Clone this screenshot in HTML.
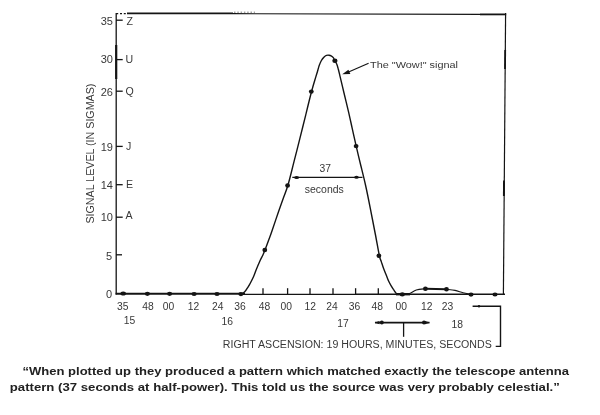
<!DOCTYPE html>
<html><head><meta charset="utf-8">
<style>
html,body{margin:0;padding:0;background:#fff;}
body{width:600px;height:415px;overflow:hidden;position:relative;}
svg{position:absolute;left:0;top:0;}
svg text{font-family:"Liberation Sans",Arial,sans-serif;fill:#383838;}
.cap{fill:#222;}
</style></head>
<body>
<svg width="600" height="415" viewBox="0 0 600 415">
<g stroke="#141414" fill="none" stroke-linecap="butt">
  <!-- frame -->
  <line x1="116.2" y1="13" x2="116.2" y2="294.5" stroke-width="1.3"/>
  <line x1="116.2" y1="45" x2="116.2" y2="79" stroke-width="2.2"/>
  <line x1="127" y1="13.4" x2="233" y2="13.4" stroke-width="1.7"/>
  <line x1="233" y1="13.7" x2="480" y2="14.3" stroke-width="1.2"/>
  <line x1="234" y1="12.2" x2="255" y2="12.2" stroke-width="1" stroke-dasharray="1.5,1.8" stroke="#777"/>
  <line x1="480" y1="14.4" x2="506.2" y2="14.4" stroke-width="1.8"/>
  <line x1="116.2" y1="13.6" x2="127" y2="13.6" stroke-width="1.2" stroke-dasharray="2,1.8"/>
  <line x1="505.6" y1="13.1" x2="503.4" y2="294.5" stroke-width="1.2"/>
  <line x1="505.2" y1="50" x2="505" y2="69" stroke-width="1.8"/>
  <line x1="504" y1="180.5" x2="503.9" y2="196" stroke-width="1.9"/>
  <!-- baseline -->
  <line x1="115.6" y1="293.8" x2="245" y2="293.8" stroke-width="2"/>
  <line x1="243" y1="294.3" x2="356" y2="294.3" stroke-width="1.2"/>
  <line x1="356" y1="294.2" x2="505" y2="294.2" stroke-width="1.6"/>
  <line x1="396" y1="294.2" x2="410" y2="294.2" stroke-width="2.4"/>
  <!-- y ticks -->
  <g stroke-width="1.3">
    <line x1="116" y1="20.2" x2="122.7" y2="20.2"/>
    <line x1="116" y1="59.6" x2="122.7" y2="59.6"/>
    <line x1="116" y1="91.2" x2="122.7" y2="91.2"/>
    <line x1="116" y1="146.4" x2="122.7" y2="146.4"/>
    <line x1="116" y1="184.7" x2="122.7" y2="184.7"/>
    <line x1="116" y1="217.2" x2="122.7" y2="217.2"/>
    <line x1="116" y1="254.8" x2="122" y2="254.8"/>
  </g>
  <!-- x ticks -->
  <g stroke-width="1.3">
    <line x1="263" y1="288.2" x2="263" y2="294"/>
    <line x1="287.6" y1="288.2" x2="287.6" y2="294"/>
    <line x1="310" y1="288.2" x2="310" y2="294"/>
    <line x1="333" y1="288.2" x2="333" y2="294"/>
    <line x1="355.6" y1="288.2" x2="355.6" y2="294"/>
    <line x1="378.3" y1="288.2" x2="378.3" y2="294"/>
  </g>
  <!-- main curve -->
  <path stroke-width="1.4" d="M240.0,293.9 C240.3,293.9 241.3,294.1 242.1,293.8 C242.9,293.5 243.8,292.7 244.7,291.8 C245.6,290.9 246.4,289.7 247.3,288.2 C248.2,286.7 249.4,284.9 250.4,283.0 C251.4,281.1 252.4,279.2 253.5,276.8 C254.6,274.4 255.6,271.1 256.7,268.5 C257.8,265.9 258.8,263.4 259.8,261.2 C260.8,258.9 262.0,256.9 262.9,255.0 C263.8,253.1 264.0,252.5 265.0,250.0 C266.0,247.5 267.5,243.4 268.7,240.1 C269.9,236.8 270.7,234.6 272.3,229.9 C273.9,225.2 276.7,217.1 278.5,211.8 C280.3,206.6 281.6,202.9 283.2,198.4 C284.8,193.9 286.2,191.1 288.0,185.0 C289.8,178.9 292.0,169.5 294.0,161.7 C296.0,153.9 297.9,146.2 299.9,138.4 C301.8,130.6 303.8,122.9 305.7,115.1 C307.6,107.3 309.9,97.8 311.5,91.8 C313.1,85.8 314.2,82.2 315.2,78.9 C316.2,75.6 316.7,73.9 317.4,71.7 C318.1,69.5 318.5,67.4 319.2,65.5 C319.9,63.6 320.6,61.9 321.4,60.5 C322.2,59.1 323.1,58.1 323.9,57.2 C324.7,56.4 325.5,55.7 326.4,55.4 C327.2,55.1 328.2,55.1 329.0,55.2 C329.8,55.3 330.4,55.4 331.1,55.8 C331.8,56.2 332.7,56.8 333.3,57.6 C333.9,58.4 334.2,59.6 334.8,60.8 C335.4,61.9 336.3,63.0 336.9,64.5 C337.5,66.0 337.9,67.7 338.4,69.5 C338.9,71.3 338.9,71.4 339.8,75.3 C340.7,79.2 342.6,87.1 344.0,93.0 C345.4,98.9 346.9,104.9 348.3,110.8 C349.7,116.7 350.9,122.5 352.2,128.4 C353.5,134.3 354.8,139.9 356.2,146.1 C357.6,152.3 359.2,159.0 360.8,165.5 C362.4,172.0 363.9,177.8 365.5,185.0 C367.1,192.2 368.8,200.7 370.4,208.9 C372.0,217.1 373.8,226.2 375.3,234.0 C376.8,241.8 378.4,251.2 379.4,255.8 C380.4,260.4 380.6,259.5 381.3,261.6 C382.0,263.7 382.8,266.4 383.6,268.5 C384.4,270.6 385.1,272.4 385.9,274.3 C386.7,276.2 387.4,278.4 388.2,280.1 C389.0,281.8 389.6,283.1 390.5,284.7 C391.4,286.2 392.4,287.9 393.4,289.4 C394.4,290.8 395.4,292.6 396.3,293.4 C397.2,294.2 398.1,294.0 399.0,294.2 C399.9,294.4 401.5,294.3 402.0,294.3"/>
  <!-- bump -->
  <path stroke-width="1.1" d="M406.0,294.2 C406.7,294.1 408.6,294.0 410.3,293.3 C412.0,292.6 413.8,290.8 416.3,290.0 C418.8,289.2 423.9,288.9 425.4,288.7"/>
  <path stroke-width="1.1" d="M446.3,289.3 C447.8,289.5 452.2,289.8 455.0,290.4 C457.8,291.0 460.3,292.0 463.0,292.7 C465.7,293.4 469.7,294.2 471.0,294.5"/>
  <line x1="425.4" y1="288.8" x2="446.3" y2="289.3" stroke-width="2"/>
  <!-- wow arrow -->
  <line x1="368.6" y1="63.3" x2="348" y2="72.2" stroke-width="1.2"/>
  <!-- 37 seconds arrow -->
  <line x1="292.3" y1="177.4" x2="362.5" y2="177.4" stroke-width="1.2"/>
  <!-- bottom arrows -->
  <line x1="375" y1="322.6" x2="429.5" y2="322.6" stroke-width="1.8"/>
  <line x1="403.6" y1="322.6" x2="403.6" y2="336.8" stroke-width="1.3"/>
  <polyline points="472.6,306.2 500.5,306.2 500.5,346.4 495.7,346.4" stroke-width="1.4"/>
</g>
<g fill="#141414">
  <!-- curve dots -->
  <ellipse cx="264.8" cy="250" rx="2.4" ry="2.2"/>
  <ellipse cx="287.6" cy="185.5" rx="2.4" ry="2.2"/>
  <ellipse cx="311.3" cy="91.6" rx="2.4" ry="2.2"/>
  <ellipse cx="334.9" cy="60.8" rx="2.6" ry="2.2"/>
  <ellipse cx="356.1" cy="146.1" rx="2.4" ry="2.2"/>
  <ellipse cx="378.9" cy="255.8" rx="2.4" ry="2.2"/>
  <!-- baseline dots -->
  <ellipse cx="123.2" cy="293.6" rx="2.8" ry="2"/>
  <ellipse cx="147.4" cy="293.8" rx="2.6" ry="2.1"/>
  <ellipse cx="169.6" cy="293.8" rx="2.6" ry="2.1"/>
  <ellipse cx="194.1" cy="294" rx="2.6" ry="2.1"/>
  <ellipse cx="217" cy="294" rx="2.6" ry="2.1"/>
  <ellipse cx="240.9" cy="294.1" rx="2.6" ry="2.1"/>
  <ellipse cx="402.3" cy="294.4" rx="2.6" ry="2.1"/>
  <ellipse cx="471" cy="294.6" rx="2.6" ry="2.1"/>
  <ellipse cx="495" cy="294.5" rx="2.6" ry="2.1"/>
  <ellipse cx="425.4" cy="288.8" rx="2.4" ry="2.2"/>
  <ellipse cx="446.5" cy="289.3" rx="2.4" ry="2.2"/>
  <!-- arrowheads -->
  <polygon points="342.2,74.3 348.4,69.8 350.4,74"/>
  <ellipse cx="296.6" cy="177.4" rx="2.5" ry="1.5"/>
  <ellipse cx="356.5" cy="177.3" rx="2.3" ry="1.5"/>
  <polygon points="374.6,322.6 379.5,320.9 379.5,324.3"/>
  <ellipse cx="381.8" cy="322.6" rx="2" ry="2"/>
  <polygon points="429.8,322.6 425,320.9 425,324.3"/>
  <ellipse cx="424" cy="322.6" rx="2" ry="2"/>
  <circle cx="479" cy="306.3" r="1.2"/>
</g>
<g font-size="11" text-anchor="end">
  <text x="113" y="24.6">35</text>
  <text x="113" y="63.4">30</text>
  <text x="113" y="96.4">26</text>
  <text x="113" y="150.6">19</text>
  <text x="113" y="189.4">14</text>
  <text x="113" y="220.8">10</text>
  <text x="112.2" y="260">5</text>
  <text x="112" y="298">0</text>
</g>
<g font-size="10.6">
  <text x="126.5" y="24.7">Z</text>
  <text x="125.5" y="62.8">U</text>
  <text x="125.5" y="95.3">Q</text>
  <text x="126" y="150.3">J</text>
  <text x="126" y="187.7">E</text>
  <text x="125.5" y="219.2">A</text>
</g>
<text font-size="10" transform="translate(94,223.6) rotate(-90)" textLength="140" lengthAdjust="spacingAndGlyphs">SIGNAL LEVEL (IN SIGMAS)</text>
<g font-size="10.3" text-anchor="middle">
  <text x="122.7" y="310">35</text>
  <text x="148" y="310">48</text>
  <text x="168.4" y="310">00</text>
  <text x="193.5" y="310">12</text>
  <text x="217.7" y="310">24</text>
  <text x="240" y="310">36</text>
  <text x="264.5" y="310">48</text>
  <text x="286.2" y="310">00</text>
  <text x="310.2" y="310">12</text>
  <text x="332.1" y="310">24</text>
  <text x="354.5" y="310">36</text>
  <text x="377.2" y="310">48</text>
  <text x="401.2" y="310">00</text>
  <text x="426.8" y="310">12</text>
  <text x="447.5" y="310">23</text>
  <text x="129.5" y="324.2">15</text>
  <text x="227.2" y="325">16</text>
  <text x="343.1" y="326.5">17</text>
  <text x="457.2" y="327.7">18</text>
  <text x="325.2" y="171.5">37</text>
</g>
<text font-size="10.4" x="304.8" y="192.7" textLength="39" lengthAdjust="spacingAndGlyphs">seconds</text>
<text font-size="9.6" x="370" y="68.2" textLength="88" lengthAdjust="spacingAndGlyphs">The "Wow!" signal</text>
<text font-size="10" x="222.8" y="347.6" textLength="269" lengthAdjust="spacingAndGlyphs">RIGHT ASCENSION: 19 HOURS, MINUTES, SECONDS</text>
<text class="cap" font-size="11.3" font-weight="bold" x="22.5" y="375.3" textLength="546.5" lengthAdjust="spacingAndGlyphs">“When plotted up they produced a pattern which matched exactly the telescope antenna</text>
<text class="cap" font-size="11.3" font-weight="bold" x="9.8" y="390.6" textLength="550" lengthAdjust="spacingAndGlyphs">pattern (37 seconds at half-power). This told us the source was very probably celestial.”</text>
</svg>
</body></html>
